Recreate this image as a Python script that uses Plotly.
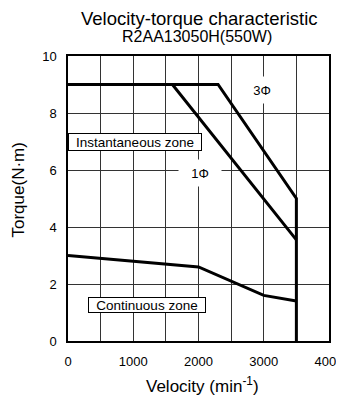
import plotly.graph_objects as go

# Data
speed_3phase = [0, 2300, 3500, 3500]
torque_3phase = [9.0, 9.0, 5.0, 0.0]
speed_1phase = [0, 1600, 3500]
torque_1phase = [9.0, 9.0, 3.55]
speed_cont = [0, 2000, 3000, 3500]
torque_cont = [3.0, 2.6, 1.6, 1.4]

x_tickvals = [0, 500, 1000, 1500, 2000, 2500, 3000, 3500, 4000]
x_ticktext = ["0", "", "1000", "", "2000", "", "3000", "", "4000"]
y_tickvals = [0, 2, 4, 6, 8, 10]

FONT = "Liberation Sans, Arial, sans-serif"
line_style = dict(color="black", width=3)

fig = go.Figure()
fig.add_trace(go.Scatter(x=speed_3phase, y=torque_3phase, mode="lines", line=line_style, showlegend=False))
fig.add_trace(go.Scatter(x=speed_1phase, y=torque_1phase, mode="lines", line=line_style, showlegend=False))
fig.add_trace(go.Scatter(x=speed_cont, y=torque_cont, mode="lines", line=line_style, showlegend=False))

fig.add_annotation(x=1030, y=7.0, text="Instantaneous zone", showarrow=False, xanchor="center",
                   width=130, height=14,
                   bgcolor="white", bordercolor="black", borderwidth=1, borderpad=1,
                   font=dict(size=13.5, color="black", family=FONT))
fig.add_annotation(x=1205, y=1.25, text="Continuous zone", showarrow=False, xanchor="center",
                   width=114, height=12,
                   bgcolor="white", bordercolor="black", borderwidth=1, borderpad=1,
                   font=dict(size=13.5, color="black", family=FONT))
fig.add_annotation(x=2970, y=8.8, text="3Φ", showarrow=False, bgcolor="white",
                   width=36, height=22, borderpad=2,
                   font=dict(size=13, color="black", family=FONT))
fig.add_annotation(x=2030, y=5.9, text="1Φ", showarrow=False, bgcolor="white",
                   width=38, height=22, borderpad=2,
                   font=dict(size=13, color="black", family=FONT))

# Titles
fig.add_annotation(x=0.5, y=1, xref="paper", yref="paper", yshift=38, xshift=1,
                   text="Velocity-torque characteristic", showarrow=False, yanchor="middle",
                   font=dict(size=18.5, color="black", family=FONT))
fig.add_annotation(x=0.5, y=1, xref="paper", yref="paper", yshift=20, xshift=-2,
                   text="R2AA13050H(550W)", showarrow=False, yanchor="middle",
                   font=dict(size=16, color="black", family=FONT))
# Axis titles
fig.add_annotation(x=0, y=0.5, xref="paper", yref="paper", xshift=-50, yshift=8,
                   text="Torque(N·m)", textangle=-90, showarrow=False,
                   xanchor="center", yanchor="middle",
                   font=dict(size=17, color="black", family=FONT))
fig.add_annotation(x=0.5, y=0, xref="paper", yref="paper", xshift=4, yshift=-44,
                   text="Velocity (min<sup>-1</sup>)", showarrow=False,
                   xanchor="center", yanchor="middle",
                   font=dict(size=17, color="black", family=FONT))

# The page body adds an 8px offset; the figure is sized to fit in the remaining window.
fig.update_layout(
    width=336, height=391,
    margin=dict(l=60, r=15, t=48, b=58),
    paper_bgcolor="white", plot_bgcolor="white",
    font=dict(family=FONT, color="black", size=13),
    xaxis=dict(range=[0, 4000], tickvals=x_tickvals, ticktext=x_ticktext,
               showgrid=True, gridcolor="#333333", gridwidth=1,
               showline=True, linecolor="black", linewidth=1.5, mirror=True,
               zeroline=False, ticks="", ticklabelstandoff=8, automargin=False),
    yaxis=dict(range=[0, 10], tickvals=y_tickvals,
               showgrid=True, gridcolor="#333333", gridwidth=1,
               showline=True, linecolor="black", linewidth=1.5, mirror=True,
               zeroline=False, ticks="", ticklabelstandoff=7, automargin=False),
)

fig.write_html("out.html")
